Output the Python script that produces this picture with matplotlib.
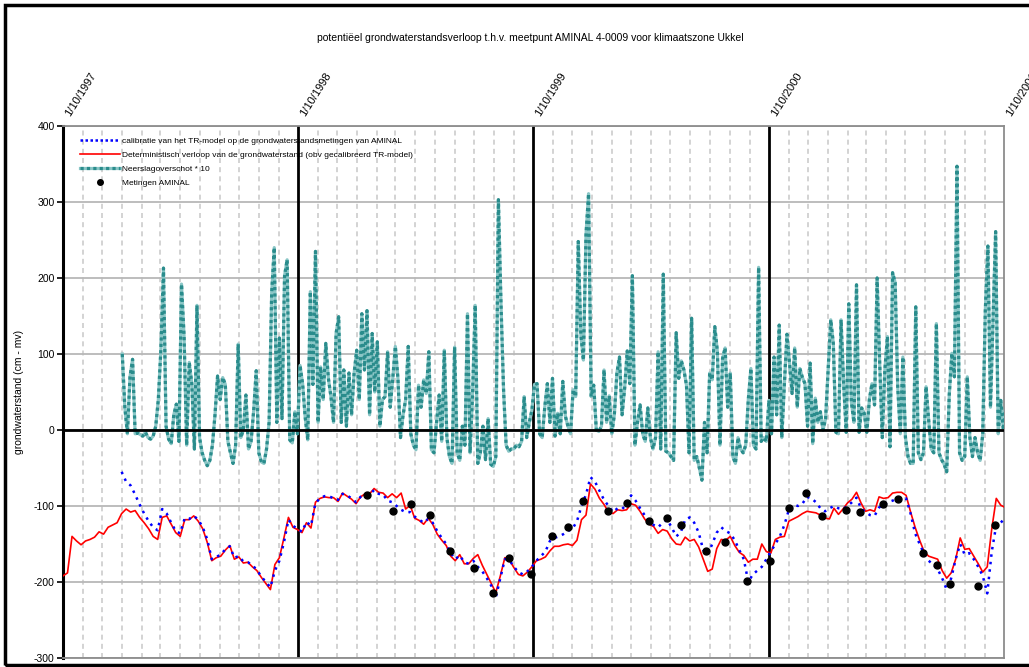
import matplotlib
matplotlib.use('Agg')
import matplotlib.pyplot as plt
from matplotlib.lines import Line2D
from matplotlib.patches import Rectangle
import pandas as pd

plt.rcParams['font.family'] = ['Liberation Sans', 'DejaVu Sans']
plt.rcParams['axes.unicode_minus'] = False

# deterministic groundwater level (cm - mv), weekly from 1/10/1997
gws_start = '1997-10-01'
gws_det = [-192, -188, -140, -146, -151, -146, -144, -141, -134, -137,
           -128, -125, -122, -110, -104, -108, -106, -115, -122, -130,
           -140, -144, -115, -113, -124, -135, -140, -118, -118, -113,
           -120, -130, -148, -172, -168, -166, -158, -152, -170, -167,
           -175, -174, -180, -185, -194, -202, -210, -177, -168, -142,
           -115, -128, -131, -135, -122, -129, -95, -90, -88, -89,
           -89, -94, -83, -87, -91, -97, -88, -84, -84, -77,
           -82, -83, -89, -84, -89, -83, -104, -99, -116, -119,
           -124, -116, -124, -137, -145, -152, -166, -172, -164, -176,
           -176, -169, -164, -178, -190, -202, -214, -192, -168, -171,
           -181, -190, -192, -187, -180, -172, -170, -167, -159, -153,
           -153, -151, -150, -152, -145, -118, -112, -71, -78, -90,
           -98, -108, -110, -105, -106, -105, -97, -99, -107, -117,
           -124, -127, -136, -131, -133, -143, -150, -151, -141, -146,
           -144, -154, -170, -186, -183, -156, -144, -145, -140, -152,
           -161, -165, -174, -170, -170, -150, -160, -162, -144, -141,
           -140, -120, -117, -114, -110, -107, -108, -109, -112, -116,
           -117, -103, -111, -104, -96, -91, -82, -96, -107, -105,
           -107, -88, -90, -89, -83, -82, -82, -86, -108, -128,
           -145, -160, -166, -168, -170, -185, -195, -188, -170, -142,
           -157, -156, -166, -176, -187, -180, -130, -90, -99, -102]

# calibration run, same weeks, starting January 1998
cal_offset = 13
gws_cal = [-55, -68, -73, -85, -98, -110, -120, -128, -132, -104,
           -110, -122, -133, -136, -116, -117, -113, -118, -128, -144,
           -170, -167, -164, -157, -153, -168, -166, -173, -174, -178,
           -184, -193, -200, -207, -185, -172, -148, -118, -126, -130,
           -134, -121, -126, -96, -90, -87, -87, -90, -92, -84,
           -86, -90, -95, -88, -85, -85, -79, -84, -85, -93,
           -95, -100, -105, -108, -108, -114, -118, -122, -117, -122,
           -133, -142, -150, -162, -170, -165, -174, -176, -172, -180,
           -186, -195, -205, -220, -195, -170, -171, -180, -187, -190,
           -186, -180, -172, -166, -160, -146, -142, -140, -137, -133,
           -130, -120, -100, -85, -62, -68, -80, -92, -100, -108,
           -103, -104, -98, -86, -93, -103, -112, -120, -125, -128,
           -122, -118, -128, -140, -135, -118, -115, -122, -135, -158,
           -164, -150, -135, -128, -133, -136, -145, -158, -170, -200,
           -190, -185, -180, -170, -160, -150, -140, -125, -105, -98,
           -100, -97, -88, -90, -95, -103, -107, -103, -100, -103,
           -104, -100, -95, -89, -103, -108, -112, -113, -102, -98,
           -95, -93, -90, -88, -90, -110, -136, -150, -163, -172,
           -177, -183, -195, -210, -195, -170, -150, -164, -162, -170,
           -180, -192, -215, -160, -125, -122, -115]

# precipitation surplus * 10, every 4 days from 1/1/1998
neerslag_start = '1998-01-01'
neerslag_x10 = [100, 30, -5, 70, 93, -5, -4, -6, -8, -3,
                -10, -12, -8, 5, 40, 106, 213, 5, -12, -18,
                20, 34, -15, 192, 123, -20, 89, 61, -25, 164,
                -10, -30, -40, -47, -40, -20, 20, 71, 40, 69,
                60, -15, -30, -44, -20, 113, -10, 0, 46, -25,
                -15, 25, 78, -30, -42, -44, -25, 10, 181, 240,
                10, 121, 15, 203, 224, -13, -17, 24, -5, 85,
                61, 17, -13, 182, 60, 235, 10, 83, 40, 114,
                68, 44, 10, 127, 149, 10, 79, 5, 75, 20,
                75, 105, 40, 153, 79, 157, 20, 127, 50, 116,
                5, 40, 44, 103, 30, 68, 110, 68, -10, 20,
                40, 110, -5, -20, -26, 59, 30, 66, 48, 103,
                -26, -30, 10, 46, -15, 105, -10, -35, -44, 109,
                -30, -40, 5, -20, 153, -30, 50, 164, -44, -30,
                5, -39, 15, -45, -48, -35, 303, 167, 53, -20,
                -28, -25, -25, -20, -22, -15, 44, -10, 10, 26,
                60, 61, -5, -10, 30, 61, 10, 68, -8, 22,
                -5, 64, 18, 5, -5, 53, 44, 248, 125, 92,
                257, 311, 44, 59, 0, -2, 5, 79, 10, 45,
                -5, 20, 75, 96, 20, 55, 104, 61, 203, -20,
                10, 33, -5, -15, 29, -10, -25, -10, 103, -25,
                205, -28, -30, -35, -40, 128, 68, 91, 79, 59,
                -30, 147, -40, -35, -50, -66, 10, -30, 75, 66,
                136, 103, -20, 94, 108, 30, 75, -35, -44, -10,
                -25, -30, -20, 40, 81, -20, -25, 214, -15, -10,
                -15, 39, -5, 96, 20, 138, -10, 60, 126, 88,
                48, 108, 30, 81, 69, 61, 5, 88, -18, 42,
                10, 24, 0, 15, 80, 145, 114, -3, -5, 145,
                61, -3, 166, 37, 10, 191, -3, 29, 22, -3,
                40, 61, 33, 200, 88, -10, 79, 123, -22, 207,
                194, 57, -5, 96, -10, -35, -44, -44, 162, -30,
                -39, -30, 57, 13, -25, -30, 140, -30, -39, -45,
                -55, 46, 101, 70, 347, -30, -40, -35, 70, -10,
                -35, -10, -30, -40, -5, 158, 242, 30, 145, 261,
                -5, 39, 0, 35]

# AMINAL measurements
meting_datum = ['1999-01-16', '1999-02-26', '1999-03-26', '1999-04-24', '1999-05-25',
                '1999-07-01', '1999-07-30', '1999-08-25', '1999-09-28', '1999-10-30',
                '1999-11-24', '1999-12-18', '2000-01-25', '2000-02-23', '2000-03-29',
                '2000-04-25', '2000-05-18', '2000-06-26', '2000-07-25', '2000-08-28',
                '2000-10-03', '2000-11-01', '2000-11-28', '2000-12-22', '2001-01-29',
                '2001-02-19', '2001-03-27', '2001-04-20', '2001-05-28', '2001-06-19',
                '2001-07-09', '2001-08-22', '2001-09-17']
meting_waarde = [-86, -107, -97, -112, -159, -182, -215, -169, -190, -140,
                 -127, -93, -107, -96, -120, -116, -125, -159, -147, -199,
                 -172, -103, -83, -113, -105, -108, -97, -91, -162, -178,
                 -203, -205, -125]

jaar_labels = ['1/10/1997', '1/10/1998', '1/10/1999', '1/10/2000', '1/10/2001']

week_dates = pd.date_range(gws_start, periods=len(gws_det), freq='7D')
cal_dates = week_dates[cal_offset:cal_offset + len(gws_cal)]
neerslag_dates = pd.date_range(neerslag_start, periods=len(neerslag_x10), freq='4D')
meting_dates = pd.to_datetime(meting_datum)
jaar_dates = pd.to_datetime(['1997-10-01', '1998-10-01', '1999-10-01', '2000-10-01', '2001-10-01'])

fig = plt.figure(figsize=(10.29, 6.67), dpi=100)
ax = fig.add_axes([63 / 1029, 1 - 658 / 667, 941 / 1029, 532 / 667])

# grid: monthly dashed, horizontal solid, year lines black
for d in pd.date_range('1997-11-01', '2001-09-01', freq='MS'):
    if d.month != 10:
        ax.axvline(d, color='#cccccc', lw=1.2, ls=(0, (3, 2.5)), zorder=1)
for y in range(400, -400, -100):
    ax.axhline(y, color='#b8b8b8', lw=1.3, zorder=1)
for d in jaar_dates[1:4]:
    ax.axvline(d, color='black', lw=2, zorder=2)

# precipitation surplus: light teal body with darker dotted pattern
ax.plot(neerslag_dates, neerslag_x10, color='#8ac6c6', lw=2.3, zorder=3)
ax.plot(neerslag_dates, neerslag_x10, color='#2a8c8c', lw=2.3, ls=(0, (1, 1)), zorder=3)
ax.axhline(0, color='black', lw=2, zorder=4)

ax.plot(week_dates, gws_det, color='red', lw=1.2, zorder=5)
ax.plot(cal_dates, gws_cal, color='blue', lw=1.8, ls=(0, (1, 2)), zorder=6)
ax.plot(meting_dates, meting_waarde, 'o', color='black', ms=5, zorder=7)

ax.set_xlim(jaar_dates[0], jaar_dates[-1])
ax.set_ylim(-300, 400)
ax.set_yticks(range(-300, 500, 100))
ax.set_xticks(jaar_dates)
ax.set_xticklabels(jaar_labels)
ax.tick_params(axis='x', bottom=False, labelbottom=False, top=False, labeltop=True, pad=6)
for lab in ax.get_xticklabels():
    lab.set_rotation(58)
    lab.set_rotation_mode('anchor')
    lab.set_ha('left')
    lab.set_va('top')
    lab.set_fontsize(8)
ax.tick_params(axis='y', labelsize=7.5, length=4, width=1.2, direction='out', pad=2)
ax.set_ylabel('grondwaterstand (cm - mv)', fontsize=7.5, labelpad=7)

for side in ['top', 'right', 'bottom']:
    ax.spines[side].set_color('#8c8c8c')
    ax.spines[side].set_linewidth(1.3)
ax.spines['left'].set_linewidth(2.2)

fig.text(530 / 1029, 1 - 38 / 667, 'potentiëel grondwaterstandsverloop t.h.v. meetpunt AMINAL 4-0009 voor klimaatszone Ukkel',
         ha='center', va='center', fontsize=7.5)

handles = [Line2D([], [], color='blue', lw=1.8, ls=(0, (1, 1))),
           Line2D([], [], color='red', lw=1.2),
           (Line2D([], [], color='#8ac6c6', lw=2.3),
            Line2D([], [], color='#2a8c8c', lw=2.3, ls=(0, (1, 1)))),
           Line2D([], [], marker='o', color='black', ls='none', ms=4)]
labels = ['calibratie van het TR-model op de grondwaterstandsmetingen van AMINAL',
          'Deterministisch verloop van de grondwaterstand (obv gecalibreerd TR-model)',
          'Neerslagoverschot * 10',
          'Metingen AMINAL']
fig.legend(handles, labels, loc='upper left', bbox_to_anchor=(80 / 1029, 1 - 137 / 667),
           frameon=False, fontsize=6, handlelength=4.8, handletextpad=0.3,
           labelspacing=0.75, borderpad=0, borderaxespad=0)

fig.patches.append(Rectangle((5 / 1029, 2 / 667), 1.1, 1 - 7 / 667, transform=fig.transFigure,
                             fill=False, edgecolor='black', lw=2.5))

fig.savefig('out.png', dpi=100)
